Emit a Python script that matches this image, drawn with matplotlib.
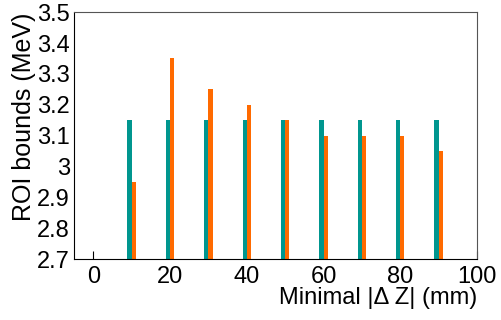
import matplotlib.pyplot as plt

plt.rcParams['font.family'] = ['Liberation Sans', 'DejaVu Sans']

# Minimal |dZ| values and ROI bounds
dz = [10, 20, 30, 40, 50, 60, 70, 80, 90]
lower = [3.15, 3.15, 3.15, 3.15, 3.15, 3.15, 3.15, 3.15, 3.15]
upper = [2.95, 3.35, 3.25, 3.20, 3.15, 3.10, 3.10, 3.10, 3.05]
yticks = [2.7, 2.8, 2.9, 3.0, 3.1, 3.2, 3.3, 3.4, 3.5]
ylabels = ['2.7', '2.8', '2.9', '3', '3.1', '3.2', '3.3', '3.4', '3.5']

fig, ax = plt.subplots(figsize=(5.01, 3.2), dpi=100)
fig.subplots_adjust(left=0.148, right=0.952, top=0.962, bottom=0.19)

w = 1.1
ax.bar([x - 0.55 for x in dz], lower, width=w, color='#00968f', zorder=2)
ax.bar([x + 0.55 for x in dz], upper, width=w, color='#ff6a00', zorder=2)

ax.set_xlim(-5, 100)
ax.set_ylim(2.7, 3.5)
ax.set_xticks([0, 20, 40, 60, 80, 100])
ax.set_yticks(yticks)
ax.set_yticklabels(ylabels)
ax.tick_params(axis='x', direction='in', length=6, labelsize=17, pad=5)
ax.tick_params(axis='y', direction='in', length=0, labelsize=17, pad=3)

ax.spines['top'].set_color('#555555')
ax.spines['right'].set_color('#555555')

ax.set_xlabel('Minimal |\u0394 Z| (mm)', fontsize=17, loc='right', labelpad=-1)
ax.set_ylabel('ROI bounds (MeV)', fontsize=18, loc='top', labelpad=1)

fig.savefig('out.png', dpi=100)
